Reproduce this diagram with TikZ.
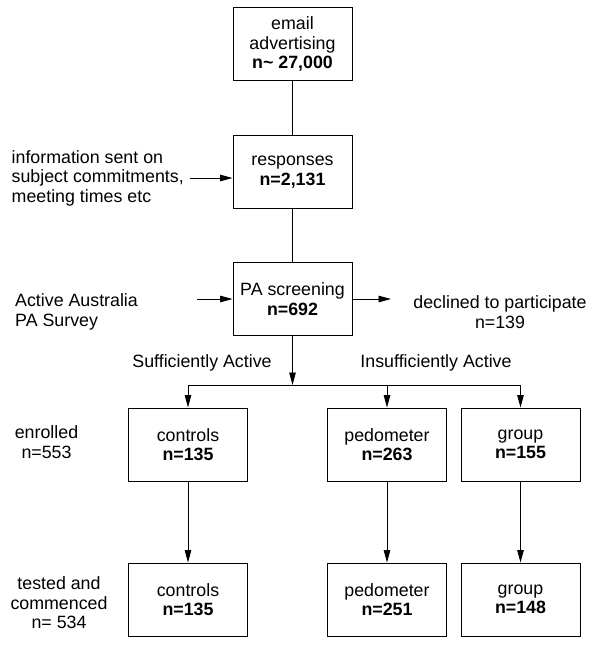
\documentclass[tikz,border=0pt]{standalone}
\usepackage{fontspec}
\setmainfont{Liberation Sans}
\usetikzlibrary{arrows.meta}
\begin{document}
\begin{tikzpicture}[x=1pt,y=-1pt,
        font=\fontsize{17.8}{19.5}\selectfont,
        stagebox/.style={draw,line width=0.9pt,minimum width=119pt,minimum height=73pt,align=center,inner sep=2pt},
        note/.style={align=center,inner sep=0pt},
        flow/.style={line width=0.9pt,-{Triangle[length=12.5pt,width=6.5pt]}}]
                \useasboundingbox (0,0) rectangle (600,648);
                % main column
                \node[stagebox] (email) at (292.5,44) {email\\advertising\\\textbf{n\textasciitilde{} 27,000}};
                \node[stagebox] (resp) at (292.5,172) {responses\\\textbf{n=2,131}};
                \node[stagebox] (screen) at (292.5,299) {PA screening\\\textbf{n=692}};
                \draw[line width=0.9pt] (email) -- (resp);
                \draw[line width=0.9pt] (resp) -- (screen);
                % side inputs and outputs
                \node[note,align=left,anchor=west] (info) at (11.5,178) {information sent on\\subject commitments,\\meeting times etc};
                \draw[flow] ([xshift=6pt]info.east) -- (info.east -| resp.west);
                \node[note,align=left,anchor=west] (survey) at (15,312) {Active Australia\\PA Survey};
                \coordinate (survey-in) at (197,299);
                \draw[flow] (survey-in) -- (screen.west);
                \node[note] (declined) at (500,312) {declined to participate\\n=139};
                \coordinate (declined-in) at (391,299);
                \draw[flow] (screen.east) -- (declined-in);
                % split into groups
                \coordinate (split) at (292.5,385);
                \node[note] (suff) at (202,363) {Sufficiently Active};
                \node[note] (insuff) at (436,363) {Insufficiently Active};
                \node[stagebox] (ctlA) at (188,444.5) {controls\\\textbf{n=135}};
                \node[stagebox] (pedA) at (387,444.5) {pedometer\\\textbf{n=263}};
                \node[stagebox] (grpA) at (520.5,444.5) {group\\\textbf{n=155}};
                \node[stagebox] (ctlB) at (188,599.5) {controls\\\textbf{n=135}};
                \node[stagebox] (pedB) at (387,599.5) {pedometer\\\textbf{n=251}};
                \node[stagebox] (grpB) at (520.5,599.5) {group\\\textbf{n=148}};
                \draw[flow] (screen) -- (split);
                \draw[line width=0.9pt] (ctlA.north |- split) -- (grpA.north |- split);
                \draw[flow] (ctlA.north |- split) -- (ctlA);
                \draw[flow] (pedA.north |- split) -- (pedA);
                \draw[flow] (grpA.north |- split) -- (grpA);
                \draw[flow] (ctlA) -- (ctlB);
                \draw[flow] (pedA) -- (pedB);
                \draw[flow] (grpA) -- (grpB);
                % row labels
                \node[note] (enrolled) at (46.5,442) {enrolled\\n=553};
                \node[note] (tested) at (59,603) {tested and\\commenced\\n= 534};
            \end{tikzpicture}
\end{document}
